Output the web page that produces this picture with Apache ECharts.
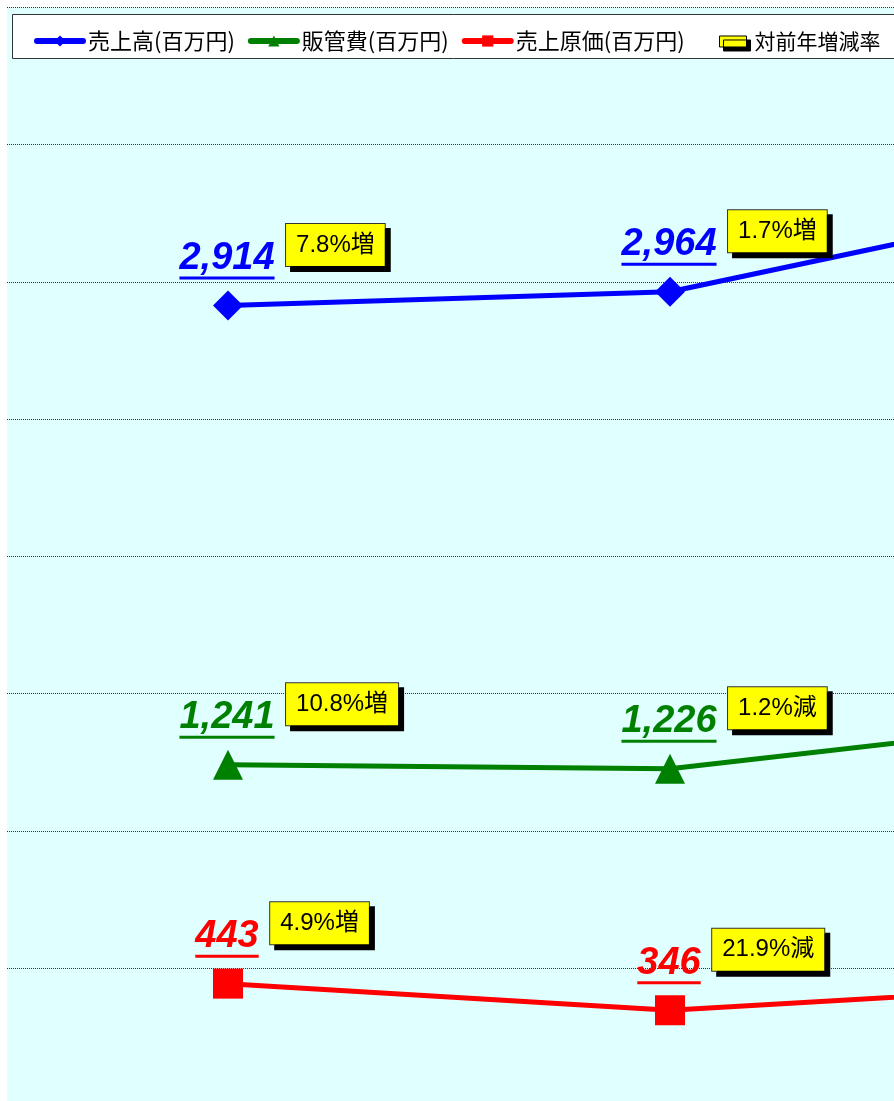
<!DOCTYPE html>
<html>
<head>
<meta charset="utf-8">
<script src="https://cdn.jsdelivr.net/npm/echarts@6/dist/echarts.min.js"></script>
<style>
html,body{margin:0;padding:0;background:#fff;}
#chart{width:894px;height:1101px;}
</style>
</head>
<body>
<div id="chart"></div>
<script>
// ---- data ----
const categories = ['前々期', '前期', '当期'];
const salesName = '売上高(百万円)';
const sgaName = '販管費(百万円)';
const cogsName = '売上原価(百万円)';
const rateName = '対前年増減率';
const sales = [2914, 2964, 3305];
const sga = [1241, 1226, 1410];
const cogs = [443, 346, 440];
const salesRate = [7.8, 1.7, 11.5];
const sgaRate = [10.8, -1.2, 15.0];
const cogsRate = [4.9, -21.9, 27.2];
const yTicks = [0, 500, 1000, 1500, 2000, 2500, 3000, 3500, 4000];

// ---- helpers ----
const VALUE_FONT = 'italic bold 38px "Liberation Sans"';
const measureCtx = document.createElement('canvas').getContext('2d');
measureCtx.font = VALUE_FONT;
function fmt(v) { return v.toLocaleString('en-US'); }
function textW(v) { return measureCtx.measureText(fmt(v)).width; }
function rateText(r) { return Math.abs(r).toFixed(1) + '%' + (r >= 0 ? '増' : '減'); }

function lineSeries(name, values, color, symbol) {
  return {
    name: name,
    type: 'line',
    data: values.map(v => ({ value: v, label: { offset: [-textW(v) / 2 - 1, 0] } })),
    symbol: symbol,
    symbolSize: 30,
    lineStyle: { color: color, width: 5 },
    itemStyle: { color: color },
    emphasis: { disabled: true },
    label: {
      show: true,
      position: 'top',
      distance: 11,
      align: 'left',
      formatter: p => '{v|' + fmt(p.value) + '}\n{u|}',
      rich: {
        v: {
          fontFamily: '"Liberation Sans", Arial, sans-serif',
          fontSize: 38, fontWeight: 'bold', fontStyle: 'italic',
          color: color, lineHeight: 36
        },
        u: { height: 3, lineHeight: 3, width: '100%', backgroundColor: color }
      }
    },
    z: 3
  };
}

function rateSeries(values, rates) {
  return {
    name: rateName,
    type: 'scatter',
    symbolSize: 1,
    itemStyle: { color: 'rgba(0,0,0,0)', opacity: 1 },
    emphasis: { disabled: true },
    data: values.map((v, i) => ({
      value: v,
      label: { position: [textW(v) / 2 + 11, -81] },
      rateLabel: rateText(rates[i])
    })),
    label: {
      show: true,
      opacity: 1,
      formatter: p => p.data.rateLabel,
      fontFamily: '"Liberation Sans", "Noto Sans CJK JP", sans-serif',
      fontSize: 24, lineHeight: 24, color: '#000',
      backgroundColor: '#FFFF00',
      borderColor: '#333', borderWidth: 1,
      padding: [9, 10, 9, 10],
      shadowColor: '#000', shadowOffsetX: 5, shadowOffsetY: 5, shadowBlur: 0
    },
    z: 5
  };
}

const chart = echarts.init(document.getElementById('chart'), null, { renderer: 'canvas' });
chart.setOption({
  animation: false,
  backgroundColor: '#fff',
  grid: {
    left: 7, top: 7.5, width: 442 * categories.length, height: 1097.7,
    outerBoundsMode: 'none', containLabel: false,
    show: true, backgroundColor: '#E0FFFF', borderWidth: 0
  },
  xAxis: {
    type: 'category',
    data: categories,
    axisLine: { show: false }, axisTick: { show: false }, axisLabel: { show: false },
    splitLine: { show: false }
  },
  yAxis: {
    type: 'value',
    min: yTicks[0], max: yTicks[yTicks.length - 1], interval: yTicks[1] - yTicks[0],
    axisLine: { show: false }, axisTick: { show: false }, axisLabel: { show: false },
    splitLine: { show: true, lineStyle: { color: '#333', width: 1, type: [1, 1] } }
  },
  graphic: [{
    type: 'rect', z: 3,
    shape: { x: 12.5, y: 14.5, width: 920, height: 44 },
    style: { fill: '#fff', stroke: '#333', lineWidth: 1 }
  }],
  legend: [{
    data: [salesName, sgaName, cogsName],
    left: 29, top: 25, itemWidth: 46, itemHeight: 14, itemGap: 13,
    lineStyle: { width: 6, cap: 'round' },
    textStyle: { fontSize: 22, color: '#000', fontFamily: '"Noto Sans CJK JP", sans-serif' },
    z: 6, selectedMode: false
  }, {
    data: [rateName],
    left: 714, top: 26, itemWidth: 33, itemHeight: 11,
    icon: 'path://M0,0H27V11H0Z',
    itemStyle: { color: '#FFFF00', borderColor: '#000', borderWidth: 1, shadowColor: '#000', shadowOffsetX: 4, shadowOffsetY: 4, shadowBlur: 0, opacity: 1 },
    textStyle: { fontSize: 21, color: '#000', fontFamily: '"Noto Sans CJK JP", sans-serif' },
    z: 6, selectedMode: false
  }],
  series: [
    lineSeries(salesName, sales, '#0000FF', 'diamond'),
    lineSeries(sgaName, sga, '#008000', 'triangle'),
    lineSeries(cogsName, cogs, '#FF0000', 'rect'),
    rateSeries(sales, salesRate),
    rateSeries(sga, sgaRate),
    rateSeries(cogs, cogsRate)
  ]
});
</script>
</body>
</html>
